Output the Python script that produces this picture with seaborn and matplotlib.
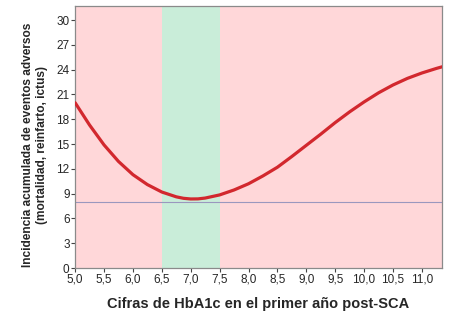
import matplotlib
matplotlib.use("Agg")
import matplotlib.pyplot as plt
import seaborn as sns
import pandas as pd

# curve
hba1c = [5.0, 5.25, 5.5, 5.75, 6.0, 6.25, 6.5, 6.75, 6.875, 7.0, 7.125, 7.25, 7.5, 7.75,
         8.0, 8.25, 8.5, 8.75, 9.0, 9.25, 9.5, 9.75, 10.0, 10.25, 10.5, 10.75, 11.0, 11.25, 11.35]
incidencia = [20.0, 17.3, 14.9, 12.9, 11.3, 10.1, 9.2, 8.62, 8.44, 8.36, 8.37, 8.47, 8.85, 9.45,
              10.2, 11.15, 12.2, 13.5, 14.85, 16.2, 17.6, 18.9, 20.1, 21.2, 22.15, 22.95, 23.6, 24.15, 24.35]
banda_optima = [6.5, 7.5]
referencia = 8.0

x_ticks = [5.0, 5.5, 6.0, 6.5, 7.0, 7.5, 8.0, 8.5, 9.0, 9.5, 10.0, 10.5, 11.0]
y_ticks = [0, 3, 6, 9, 12, 15, 18, 21, 24, 27, 30]

df = pd.DataFrame({"HbA1c": hba1c, "Incidencia": incidencia})

sns.set_style("ticks")
plt.rcParams["font.family"] = ["Liberation Sans", "DejaVu Sans"]

fig = plt.figure(figsize=(4.61, 3.18), dpi=100)
ax = fig.add_axes([0.163, 0.157, 0.796, 0.824])
ax.set_facecolor("#FFD7D9")
ax.axvspan(banda_optima[0], banda_optima[1], color="#C9EDD9", lw=0, zorder=0)
ax.axhline(referencia, color="#9A97BE", lw=0.8, zorder=1)

sns.lineplot(data=df, x="HbA1c", y="Incidencia", color="#D2282E", lw=2.3, ax=ax, zorder=3)
ax.lines[-1].set_solid_joinstyle("round")

ax.set_xlim(5.0, 11.35)
ax.set_ylim(0, 31.7)
ax.set_xticks(x_ticks)
ax.set_xticklabels([f"{v:.1f}".replace(".", ",") for v in x_ticks])
ax.set_yticks(y_ticks)
ax.set_yticklabels([str(v) for v in y_ticks])
ax.tick_params(labelsize=8.5, length=3, width=0.8, color="#444444", pad=1)

for s in ax.spines.values():
    s.set_color("#8A8A8A")
    s.set_linewidth(0.9)

ax.set_xlabel("Cifras de HbA1c en el primer año post-SCA", fontsize=10.5, fontweight="bold", labelpad=8)
ax.set_ylabel("Incidencia acumulada de eventos adversos\n(mortalidad, reinfarto, ictus)",
              fontsize=8.6, fontweight="bold")
ax.yaxis.set_label_coords(-0.074, 0.47)

fig.savefig("out.png", dpi=100)
